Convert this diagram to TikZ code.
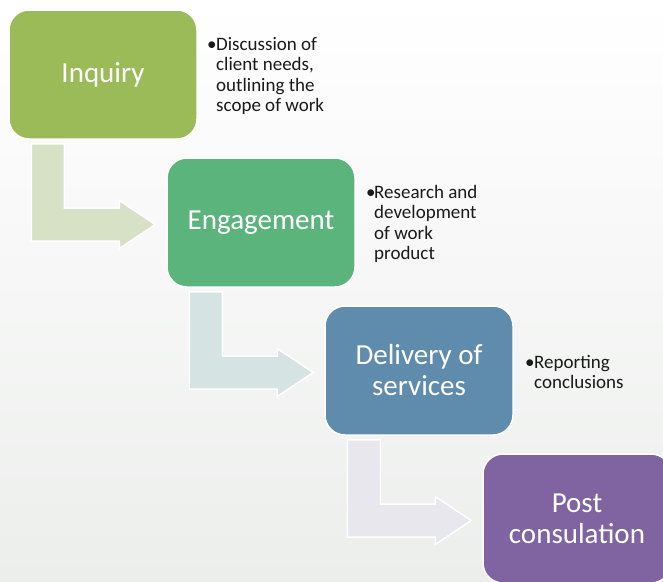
\documentclass[tikz,border=0pt]{standalone}
\usepackage{fontspec}
\setmainfont{Carlito}
\usetikzlibrary{calc}
\definecolor{cInq}{HTML}{9BBB59}
\definecolor{cEng}{HTML}{5BB47C}
\definecolor{cDel}{HTML}{5F8CAC}
\definecolor{cPost}{HTML}{8064A2}
\definecolor{aOne}{HTML}{D6E1C6}
\definecolor{aTwo}{HTML}{D5E3E3}
\definecolor{aThree}{HTML}{E9E7EE}
\definecolor{bgBot}{HTML}{ECEEEC}
\definecolor{noteText}{HTML}{1A1A1A}
\begin{document}
\begin{tikzpicture}[x=1pt,y=-1pt,
  stepbox/.style={draw=white, line width=1.5pt, rounded corners=20pt,
    minimum width=188pt, minimum height=129pt, text=white, align=center,
    font=\fontsize{29}{31}\selectfont, inner sep=0pt},
  flowarrow/.style={draw=white, line width=1.5pt, line join=miter},
  note/.style={anchor=north west, align=left, inner sep=0pt, text=noteText,
    font=\fontsize{19}{20.5}\selectfont}]
\useasboundingbox (0,0) rectangle (663,581);
\clip (0,0) rectangle (663,581);
\shade[top color=white, bottom color=bgBot] (0,0) rectangle (663,581);

\node[stepbox, fill=cInq]  (b1) at (103,74.5)  {Inquiry};
\node[stepbox, fill=cEng]  (b2) at (261,222.5) {Engagement};
\node[stepbox, fill=cDel]  (b3) at (419,370.5) {Delivery of\\services};
\node[stepbox, fill=cPost] (b4) at (577,518.5) {Post\\consulation};

\newcommand{\bentarrow}[3]{%
  \path let \p1=(#1.south west), \p2=(#2.west) in
    [flowarrow, fill=#3]
    (\x1+23pt,\y1-4pt) -- (\x1+56pt,\y1-4pt) -- (\x1+56pt,\y2+14.5pt)
    -- (\x1+111pt,\y2+14.5pt) -- (\x1+111pt,\y2+22pt) -- (\x1+147pt,\y2-2pt)
    -- (\x1+111pt,\y2-26pt) -- (\x1+111pt,\y2-18.5pt) -- (\x1+23pt,\y2-18.5pt)
    -- cycle;}
\bentarrow{b1}{b2}{aOne}
\bentarrow{b2}{b3}{aTwo}
\bentarrow{b3}{b4}{aThree}

\node[note] (t1) at (207,37) {\makebox[9pt][l]{•}Discussion of\\\hspace*{9pt}client needs,\\\hspace*{9pt}outlining the\\\hspace*{9pt}scope of work};
\node[note] (t2) at (366,185) {\makebox[8pt][l]{•}Research and\\\hspace*{8pt}development\\\hspace*{8pt}of work\\\hspace*{8pt}product};
\node[note] (t3) at (525,355) {\makebox[9pt][l]{•}Reporting\\\hspace*{9pt}conclusions};
\end{tikzpicture}
\end{document}
